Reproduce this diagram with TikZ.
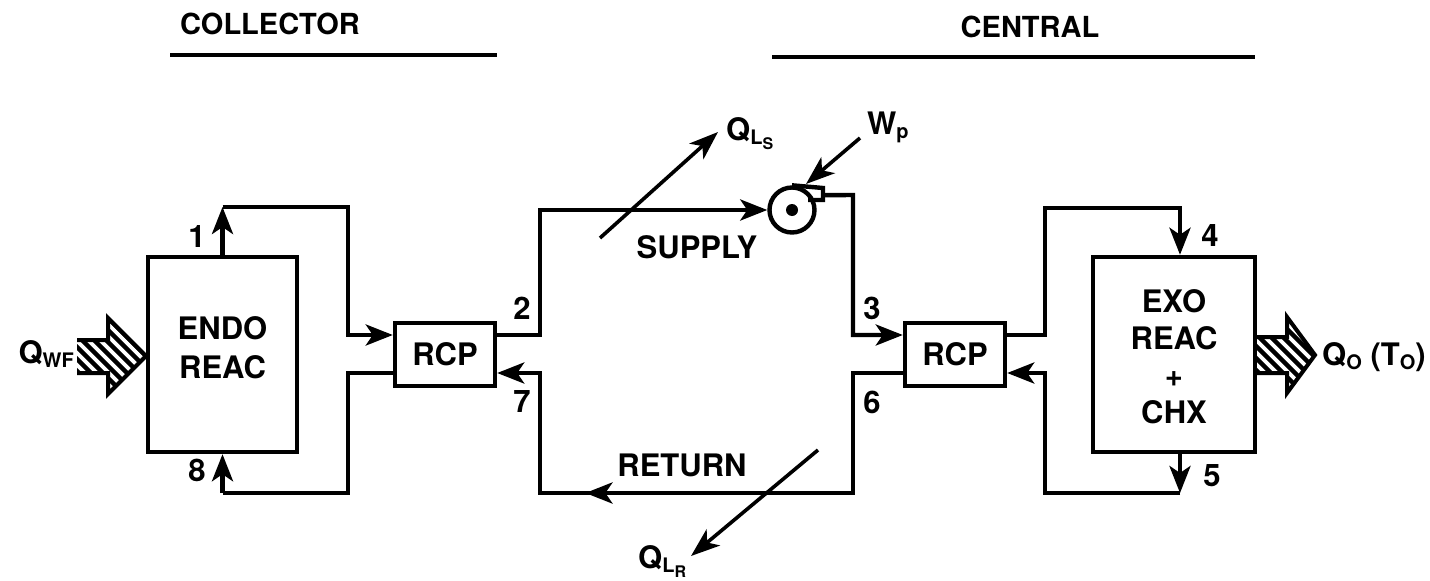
\documentclass[tikz,border=0pt]{standalone}
\usepackage{fontspec}
\setmainfont{TeX Gyre Heros}
\usetikzlibrary{arrows.meta,calc}
\newcommand\lsub[1]{\raisebox{-4pt}{\fontsize{20}{20}\selectfont #1}}
\newcommand\llsub[1]{\raisebox{-9pt}{\fontsize{16}{16}\selectfont #1}}
\begin{document}
\begin{tikzpicture}[x=1pt,y=-1pt,
  lbl/.style={font=\bfseries\fontsize{31}{37}\selectfont, inner sep=0pt, align=center},
  box/.style={draw, line width=4.4pt, inner sep=0pt, font=\bfseries\fontsize{31}{37}\selectfont, align=center},
  pipe/.style={line width=4.4pt, line join=miter},
  arr/.style={line width=4.4pt, line join=miter, -{Stealth[length=27pt,width=21pt,inset=7pt]}},
  qarr/.style={line width=3.6pt, -{Stealth[length=29pt,width=21pt,inset=8pt]}},
  rule/.style={line width=3.4pt},
  hatch/.style={line width=4.5pt},
  outline/.style={line width=4pt, line join=miter}
]
\useasboundingbox (0,0) rectangle (1430,581);

% headings
\node[lbl, font=\bfseries\fontsize{29}{32}\selectfont] (coll) at (270,24) {COLLECTOR};
\node[lbl, font=\bfseries\fontsize{29}{32}\selectfont] (cent) at (1030,27) {CENTRAL};
\coordinate (h1a) at (170,55); \coordinate (h1b) at (497,55);
\coordinate (h2a) at (772,57); \coordinate (h2b) at (1255,57);
\draw[rule] (h1a) -- (h1b);
\draw[rule] (h2a) -- (h2b);

% boxes
\node[box, minimum width=149pt, minimum height=195pt] (endo) at (222.5,354.5) {};
\node[lbl, font=\bfseries\fontsize{31}{39}\selectfont] (endot) at (222.5,348) {ENDO\\REAC};
\node[box, minimum width=100pt, minimum height=63pt] (rcpA) at (445,354.5) {RCP};
\node[box, minimum width=100pt, minimum height=63pt] (rcpB) at (955,354.5) {RCP};
\node[box, minimum width=162pt, minimum height=195pt] (exo) at (1174,354.5) {};
\node[lbl] (exot) at (1174,357) {EXO\\REAC\\+\\CHX};

% pump
\node[draw, circle, line width=4.4pt, minimum size=45pt, inner sep=0pt] (pump) at (792,210) {};
\fill (pump.center) circle (6pt);
\coordinate (tabA) at (823,188);
\coordinate (tabB) at (823,200);
\coordinate (tabC) at (808,200);
\draw[pipe] (pump.north) -- (tabA) -- (tabB) -- (tabC);

% collector loop
\coordinate (c1) at (222.5,207);
\coordinate (c2) at (348,207);
\coordinate (c3) at (348,335);
\coordinate (c5) at (348,373);
\coordinate (c6) at (348,493);
\coordinate (c7) at (222.5,493);
\draw[arr] (endo.north) -- (c1);
\draw[arr] (c1) -- (c2) -- (c3) -- (rcpA.west |- c3);
\draw[pipe] (rcpA.west |- c5) -- (c5) -- (c6) -- (c7);
\draw[arr] (c7) -- (endo.south);

% supply / return
\coordinate (s1) at (540,335);
\coordinate (s2) at (540,210);
\coordinate (s3) at (853,195);
\coordinate (s4) at (853,335);
\draw[pipe] (rcpA.east |- s1) -- (s1) -- (s2) -- ($(pump.west)+(-20,0)$);
\draw[arr] ($(pump.west)+(-30,0)$) -- (pump.west);
\draw[arr] ($(tabA)!0.6!(tabB)$) -- (s3) -- (s4) -- (rcpB.west |- s4);
\coordinate (r1) at (853,373);
\coordinate (r2) at (853,493);
\coordinate (r3) at (540,493);
\coordinate (r4) at (540,373);
\draw[arr] (rcpB.west |- r1) -- (r1) -- (r2) -- (r3) -- (r4) -- (rcpA.east |- r4);
\draw[arr] (r2) -- ($(r2)!0.855!(r3)$);

% central loop
\coordinate (e1) at (1045,335);
\coordinate (e2) at (1045,208);
\coordinate (e3) at (1180,208);
\coordinate (e4) at (1180,493);
\coordinate (e5) at (1045,493);
\coordinate (e6) at (1045,373);
\draw[arr] (rcpB.east |- e1) -- (e1) -- (e2) -- (e3) -- (e3 |- exo.north);
\draw[arr] (e3 |- exo.south) -- (e4);
\draw[arr] (e4) -- (e5) -- (e6) -- (rcpB.east |- e6);

% port numbers
\node[lbl] (n1) at (197,237) {1};
\node[lbl] (n8) at (197,470) {8};
\node[lbl] (n2) at (522,308) {2};
\node[lbl] (n7) at (522,402) {7};
\node[lbl] (n3) at (872,308) {3};
\node[lbl] (n6) at (872,402) {6};
\node[lbl] (n4) at (1210,236) {4};
\node[lbl] (n5) at (1212,476) {5};

\node[lbl] (sup) at (697,247) {SUPPLY};
\node[lbl] (ret) at (682,465) {RETURN};

% heat / work arrows
\node[lbl, anchor=west] (qls) at (726,134) {Q\lsub{L}\llsub{S}};
\coordinate (qs0) at (600,238);
\coordinate (qs1) at (718,132);
\draw[qarr] (qs0) -- (qs1);
\node[lbl, anchor=west] (wp) at (867,127) {W\lsub{p}};
\coordinate (wp0) at (860,138);
\coordinate (wp1) at (806,184);
\draw[qarr] (wp0) -- (wp1);
\node[lbl, anchor=west] (qlr) at (638,562) {Q\lsub{L}\llsub{R}};
\coordinate (qr0) at (818,450);
\coordinate (qr1) at (691,556);
\draw[qarr] (qr0) -- (qr1);

% hatched input arrow
\begin{scope}
  \clip (77,340) -- (108,340) -- (108,318) -- (146,356) -- (108,394) -- (108,373) -- (77,373) -- cycle;
  \foreach \c in {-330,-318,...,-160} \draw[hatch] (\c+300,300) -- (\c+420,420);
\end{scope}
\draw[outline] (77,340) -- (108,340) -- (108,318) -- (146,356) -- (108,394) -- (108,373) -- (77,373);
\node[lbl, anchor=east] (qwf) at (74,354) {Q\lsub{WF}};

% hatched output arrow
\begin{scope}
  \clip (1257,337) -- (1287,337) -- (1287,317) -- (1315,355) -- (1287,393) -- (1287,373) -- (1257,373) -- cycle;
  \foreach \c in {850,862,...,1010} \draw[hatch] (\c+300,300) -- (\c+420,420);
\end{scope}
\draw[outline] (1257,337) -- (1287,337) -- (1287,317) -- (1315,355) -- (1287,393) -- (1287,373) -- (1257,373);
\node[lbl, anchor=west] (qo) at (1322,357) {Q\lsub{O} (T\lsub{O})};
\end{tikzpicture}
\end{document}
